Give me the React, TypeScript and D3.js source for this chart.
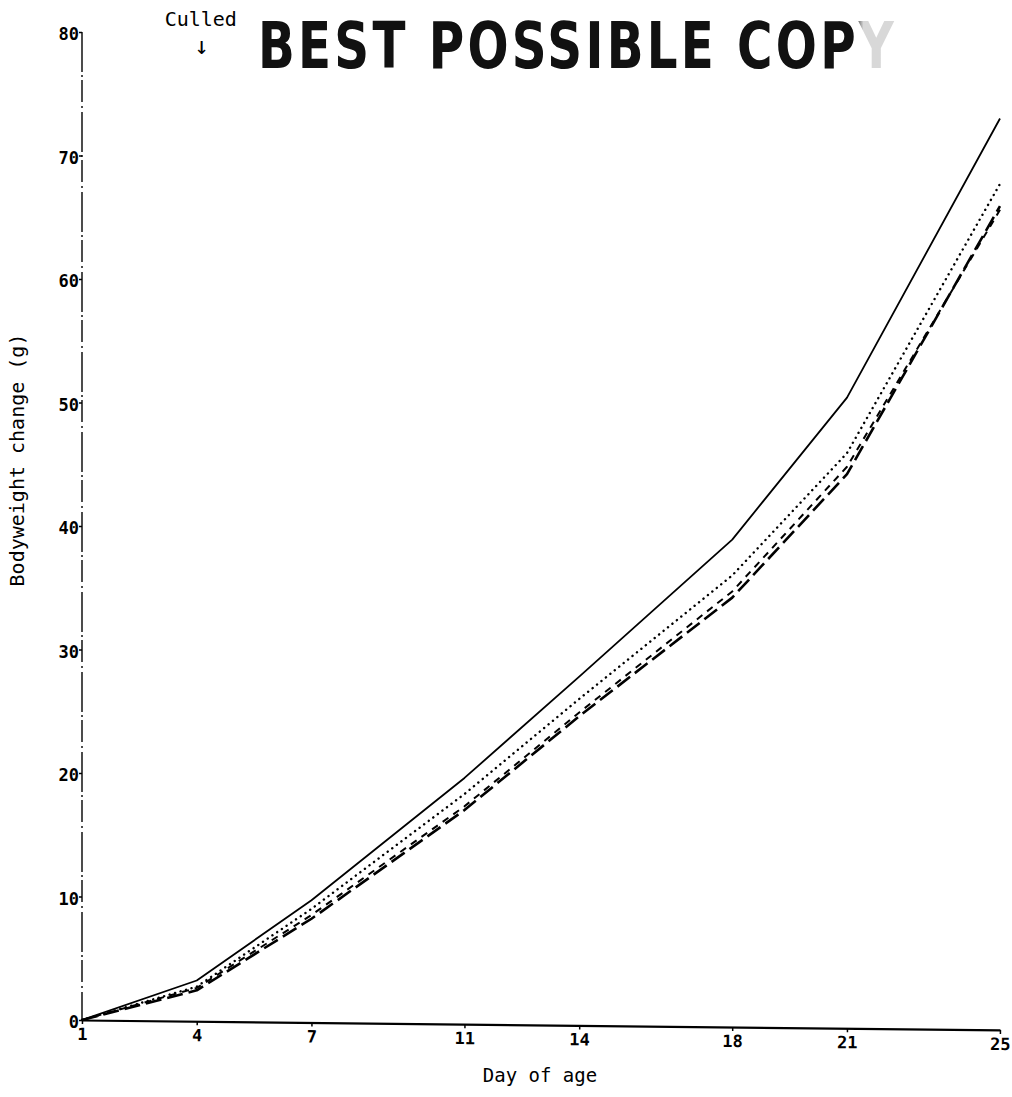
import React, { useRef, useEffect } from 'react'
import { select, scaleLinear, axisLeft, axisBottom, line, curveLinear } from 'd3'

// days on which bodyweight was measured
const days = [1, 4, 7, 11, 14, 18, 21, 25]
// bodyweight change (g), one array per group
const solidGroup = [0, 3.2, 9.7, 19.6, 27.8, 38.9, 50.4, 73.0]
const dottedGroup = [0, 2.7, 9.0, 18.3, 26.0, 36.0, 45.9, 67.7]
const longDashGroup = [0, 2.4, 8.2, 17.0, 24.6, 34.2, 44.2, 65.9]
const shortDashGroup = [0, 2.6, 8.5, 17.3, 24.9, 34.7, 44.8, 65.6]

const xTicks = [1, 4, 7, 11, 14, 18, 21, 25]
const yTicks = [0, 10, 20, 30, 40, 50, 60, 70, 80]

const series = [
  { name: 'solid', values: solidGroup, dash: null, width: 1.8, cap: 'butt' },
  { name: 'dotted', values: dottedGroup, dash: '0.1 5.6', width: 2.4, cap: 'round' },
  { name: 'longdash', values: longDashGroup, dash: '16 6', width: 2.6, cap: 'butt' },
  { name: 'shortdash', values: shortDashGroup, dash: '7 6', width: 2, cap: 'butt' },
]

const Chart = () => {
  const svgRef = useRef<SVGSVGElement>(null)

  const width = 1012
  const height = 1097
  const margin = { top: 32, right: 12, bottom: 77, left: 82 }
  const mono = '"DejaVu Sans Mono", "Liberation Mono", monospace'

  const x = scaleLinear().domain([1, 25]).range([margin.left, width - margin.right])
  const y = scaleLinear().domain([0, 80]).range([height - margin.bottom, margin.top])

  useEffect(() => {
    const svg = select(svgRef.current)
    svg.selectAll('*').remove()
    svg.attr('viewBox', [0, 0, width, height])

    // fade for the last, barely printed letter of the stamp
    const grad = svg.append('defs').append('linearGradient')
      .attr('id', 'stampFade')
      .attr('x1', 0).attr('x2', 1).attr('y1', 0).attr('y2', 0)
    grad.append('stop').attr('offset', 0).attr('stop-color', '#111')
    grad.append('stop').attr('offset', 0.935).attr('stop-color', '#111')
    grad.append('stop').attr('offset', 0.95).attr('stop-color', '#d8d8d8')
    grad.append('stop').attr('offset', 1).attr('stop-color', '#d8d8d8')

    // y axis: broken scan-like line
    const ya = svg.append('g')
      .attr('transform', `translate(${margin.left},0)`)
      .call(axisLeft(y).tickValues(yTicks).tickSize(3).tickPadding(0))
    ya.select('.domain').remove()
    ya.selectAll('.tick line').attr('stroke-width', 1.5)
    ya.selectAll('.tick text')
      .attr('font-family', mono)
      .attr('font-weight', 'bold')
      .attr('font-size', 17)
      .attr('dy', '0.45em')
    ya.append('line')
      .attr('y1', y(80)).attr('y2', y(0))
      .attr('stroke', '#000')
      .attr('stroke-width', 1.4)
      .attr('stroke-dasharray', '40 3 2 3 22 4 2 4')

    // x axis, slightly tilted like the scanned page
    const xa = svg.append('g')
      .attr('transform', `rotate(0.62, ${margin.left}, ${y(0)}) translate(0,${y(0)})`)
      .call(axisBottom(x).tickValues(xTicks).tickSize(4).tickPadding(4).tickSizeOuter(0))
    xa.select('.domain').attr('stroke-width', 2.2)
    xa.selectAll('.tick line').attr('stroke-width', 1.5)
    xa.selectAll('.tick text')
      .attr('font-family', mono)
      .attr('font-weight', 'bold')
      .attr('font-size', 17)

    const graphLine = line<number>()
      .x((_, i) => x(days[i]))
      .y(d => y(d))
      .curve(curveLinear)

    series.forEach(s => {
      svg.append('path')
        .datum(s.values)
        .attr('fill', 'none')
        .attr('stroke', '#000')
        .attr('stroke-width', s.width)
        .attr('stroke-linecap', s.cap)
        .attr('stroke-linejoin', 'round')
        .attr('stroke-dasharray', s.dash)
        .attr('d', graphLine)
    })

    // axis titles
    svg.append('text')
      .attr('x', 540).attr('y', 1082)
      .attr('text-anchor', 'middle')
      .attr('font-family', mono)
      .attr('font-size', 19)
      .text('Day of age')
    svg.append('text')
      .attr('transform', `translate(24,${460}) rotate(-90)`)
      .attr('text-anchor', 'middle')
      .attr('font-family', mono)
      .attr('font-size', 20)
      .text('Bodyweight change (g)')

    // culled annotation at day 4
    svg.append('text')
      .attr('x', x(4) + 4).attr('y', 26)
      .attr('text-anchor', 'middle')
      .attr('font-family', mono)
      .attr('font-size', 20)
      .text('Culled')
    svg.append('text')
      .attr('x', x(4) + 5).attr('y', 54)
      .attr('text-anchor', 'middle')
      .attr('font-family', mono)
      .attr('font-size', 24)
      .text('↓')

    // stamp across the top
    svg.append('text')
      .attr('transform', 'translate(258,68) scale(0.84,1)')
      .attr('font-family', '"DejaVu Sans Condensed", "DejaVu Sans", sans-serif')
      .attr('font-weight', 'bold')
      .attr('font-size', 64)
      .attr('textLength', 757)
      .attr('lengthAdjust', 'spacing')
      .attr('fill', 'url(#stampFade)')
      .text('BEST POSSIBLE COPY')
  }, [])

  return (
    <div style={{ position: 'absolute', left: 0, top: 0, width: 1012, height: 1097, background: '#fff' }}>
      <svg ref={svgRef} width={1012} height={1097} style={{ display: 'block' }}></svg>
    </div>
  )
}

export default function App() {
  return <Chart />
}
